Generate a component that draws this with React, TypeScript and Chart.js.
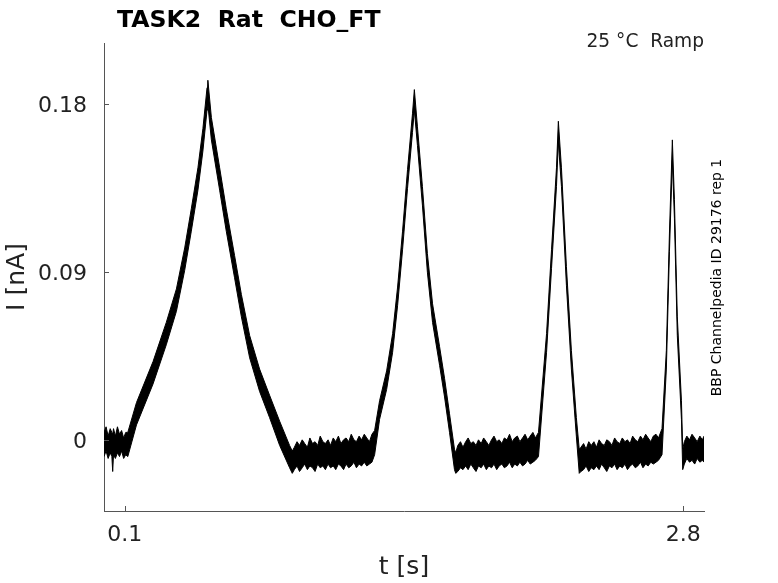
import { useEffect, useRef } from 'react';
import { Chart, registerables } from 'chart.js';

Chart.register(...registerables);

// time axis [s] of the sampled envelope points (one line per segment)
const timeS = [
  0.000, 0.010, 0.020, 0.030, 0.038, 0.042, 0.046, 0.055, 0.065, 0.075, 0.085, 0.095, 0.105,
  0.115, 0.157, 0.237, 0.301, 0.350, 0.390, 0.422, 0.454, 0.478, 0.498, 0.502, 0.519, 0.559, 0.591, 0.631, 0.664, 0.704, 0.752, 0.800, 0.849, 0.897, 0.910,
  0.920, 0.933, 0.945, 0.958, 0.970, 0.983, 0.995, 1.008, 1.020, 1.033, 1.045, 1.058, 1.070, 1.083, 1.095, 1.108, 1.120, 1.133, 1.145, 1.158, 1.170, 1.183, 1.195, 1.208, 1.220, 1.233, 1.245, 1.258, 1.270, 1.283, 1.295,
  1.308, 1.332, 1.366, 1.395, 1.419, 1.443, 1.467, 1.491, 1.500, 1.515, 1.539, 1.563, 1.588, 1.622, 1.646, 1.670, 1.694, 1.700,
  1.710, 1.723, 1.735, 1.748, 1.760, 1.773, 1.785, 1.798, 1.810, 1.823, 1.835, 1.848, 1.860, 1.873, 1.885, 1.898, 1.910, 1.923, 1.935, 1.948, 1.960, 1.973, 1.985, 1.998, 2.010, 2.023, 2.035, 2.048, 2.060, 2.073, 2.085,
  2.100, 2.139, 2.163, 2.187, 2.196, 2.211, 2.235, 2.259, 2.283, 2.297,
  2.305, 2.318, 2.330, 2.343, 2.355, 2.368, 2.380, 2.393, 2.405, 2.418, 2.430, 2.443, 2.455, 2.468, 2.480, 2.493, 2.505, 2.518, 2.530, 2.543, 2.555, 2.568, 2.580, 2.593, 2.605, 2.618, 2.630, 2.643, 2.655, 2.668, 2.680,
  2.697, 2.718, 2.733, 2.747, 2.757, 2.771, 2.791, 2.797,
  2.805, 2.817, 2.830, 2.842, 2.855, 2.867, 2.880, 2.892, 2.900,
];

// upper edge of the noisy current trace [nA]
const upperNA = [
  0.004, 0.007, 0.002, 0.006, 0.004, 0.003, 0.006, 0.002, 0.007, 0.003, 0.005, 0.001, 0.004,
  0.004, 0.020, 0.042, 0.063, 0.081, 0.103, 0.124, 0.146, 0.167, 0.189, 0.193, 0.173, 0.146, 0.124, 0.099, 0.078, 0.056, 0.038, 0.024, 0.010, -0.003, -0.006,
  -0.004, -0.001, -0.003, 0.000, -0.002, -0.004, 0.001, -0.002, -0.001, -0.003, 0.002, -0.001, -0.002, 0.000, -0.003, 0.001, -0.001, 0.002, -0.002, 0.000, 0.001, -0.001, 0.003, 0.000, -0.001, 0.002, 0.000, 0.003, 0.001, -0.001, 0.003,
  0.005, 0.021, 0.037, 0.057, 0.082, 0.112, 0.145, 0.175, 0.188, 0.168, 0.136, 0.100, 0.073, 0.050, 0.033, 0.014, -0.005, -0.007,
  -0.003, -0.001, -0.004, -0.001, 0.001, -0.002, -0.001, -0.003, 0.000, -0.002, 0.001, -0.001, -0.003, 0.000, 0.002, -0.001, 0.000, -0.002, 0.001, 0.000, 0.003, -0.001, 0.001, 0.002, -0.001, 0.001, 0.003, 0.000, 0.002, 0.004, 0.001,
  0.004, 0.057, 0.102, 0.146, 0.171, 0.146, 0.093, 0.048, 0.012, -0.005,
  -0.004, -0.002, -0.005, -0.001, -0.003, -0.001, -0.004, 0.000, -0.002, -0.003, 0.000, -0.001, -0.003, 0.001, -0.001, -0.002, 0.001, -0.001, 0.000, -0.002, 0.002, 0.000, -0.001, 0.002, 0.000, 0.003, 0.001, -0.001, 0.002, 0.003, 0.001,
  0.006, 0.048, 0.111, 0.161, 0.129, 0.066, 0.021, -0.005,
  -0.001, 0.002, 0.000, 0.003, 0.001, -0.001, 0.002, 0.000, 0.002,
];

// lower edge of the noisy current trace [nA]
const lowerNA = [
  -0.009, -0.006, -0.010, -0.007, -0.009, -0.017, -0.008, -0.010, -0.007, -0.009, -0.006, -0.010, -0.008,
  -0.009, 0.008, 0.030, 0.051, 0.069, 0.091, 0.112, 0.134, 0.155, 0.177, 0.180, 0.161, 0.134, 0.112, 0.087, 0.066, 0.044, 0.026, 0.012, -0.003, -0.015, -0.018,
  -0.016, -0.014, -0.017, -0.015, -0.013, -0.016, -0.014, -0.015, -0.017, -0.013, -0.015, -0.014, -0.016, -0.013, -0.015, -0.014, -0.016, -0.013, -0.014, -0.016, -0.013, -0.015, -0.014, -0.012, -0.015, -0.013, -0.014, -0.012, -0.014, -0.013, -0.012,
  -0.008, 0.011, 0.027, 0.047, 0.072, 0.102, 0.135, 0.165, 0.177, 0.158, 0.126, 0.090, 0.063, 0.040, 0.023, 0.004, -0.016, -0.018,
  -0.017, -0.015, -0.016, -0.014, -0.016, -0.013, -0.015, -0.017, -0.014, -0.015, -0.013, -0.016, -0.014, -0.015, -0.013, -0.016, -0.014, -0.013, -0.015, -0.014, -0.012, -0.015, -0.013, -0.014, -0.012, -0.014, -0.013, -0.011, -0.013, -0.012, -0.011,
  -0.009, 0.047, 0.092, 0.136, 0.160, 0.136, 0.083, 0.038, 0.002, -0.018,
  -0.017, -0.016, -0.014, -0.017, -0.015, -0.016, -0.014, -0.016, -0.013, -0.015, -0.017, -0.014, -0.015, -0.013, -0.016, -0.014, -0.015, -0.013, -0.016, -0.014, -0.013, -0.015, -0.014, -0.012, -0.015, -0.013, -0.014, -0.012, -0.013, -0.012, -0.011,
  -0.008, 0.038, 0.101, 0.150, 0.119, 0.056, 0.011, -0.016,
  -0.013, -0.010, -0.012, -0.011, -0.013, -0.010, -0.012, -0.011, -0.012,
];

const xTicks = [0.1, 2.8];
const yTicks = [0, 0.09, 0.18];

const titleText = 'TASK2  Rat  CHO_FT';
const conditionText = '25 °C  Ramp';
const sourceText = 'BBP Channelpedia ID 29176 rep 1';

const FONT = '"DejaVu Sans", sans-serif';
const AXIS = '#555555';
const TEXT = '#222222';

const decorations = {
  id: 'decorations',
  afterDatasetsDraw(chart: any) {
    const { ctx, chartArea, scales } = chart;
    ctx.save();
    // inward tick marks
    ctx.strokeStyle = AXIS;
    ctx.lineWidth = 1;
    xTicks.forEach((v) => {
      const px = Math.round(scales.x.getPixelForValue(v)) + 0.5;
      ctx.beginPath();
      ctx.moveTo(px, chartArea.bottom);
      ctx.lineTo(px, chartArea.bottom - 5);
      ctx.stroke();
    });
    yTicks.forEach((v) => {
      const py = Math.round(scales.y.getPixelForValue(v)) + 0.5;
      ctx.beginPath();
      ctx.moveTo(chartArea.left, py);
      ctx.lineTo(chartArea.left + 5, py);
      ctx.stroke();
    });

    ctx.fillStyle = '#000000';
    ctx.font = `bold 23.6px ${FONT}`;
    ctx.textAlign = 'left';
    ctx.textBaseline = 'alphabetic';
    ctx.fillText(titleText, 117, 27);

    ctx.fillStyle = TEXT;
    ctx.font = `18.6px ${FONT}`;
    ctx.textAlign = 'right';
    ctx.fillText(conditionText, 704, 47);

    ctx.font = `25px ${FONT}`;
    ctx.textAlign = 'center';
    ctx.textBaseline = 'middle';
    ctx.fillText('t [s]', (chartArea.left + chartArea.right) / 2, 567);

    ctx.save();
    ctx.translate(17, (chartArea.top + chartArea.bottom) / 2);
    ctx.rotate(-Math.PI / 2);
    ctx.fillText('I [nA]', 0, 0);
    ctx.restore();

    ctx.save();
    ctx.translate(717, 277.5);
    ctx.rotate(-Math.PI / 2);
    ctx.fillStyle = '#000000';
    ctx.font = `14px ${FONT}`;
    ctx.fillText(sourceText, 0, 0);
    ctx.restore();

    ctx.restore();
  },
};

export default function App() {
  const canvasRef = useRef<HTMLCanvasElement>(null);
  const chartRef = useRef<Chart | null>(null);

  useEffect(() => {
    if (!canvasRef.current) return;
    if (chartRef.current) chartRef.current.destroy();

    const n = Math.min(timeS.length, upperNA.length, lowerNA.length);
    const upper = timeS.slice(0, n).map((t, i) => ({ x: t, y: upperNA[i] }));
    const lower = timeS.slice(0, n).map((t, i) => ({ x: t, y: lowerNA[i] }));

    chartRef.current = new Chart(canvasRef.current, {
      type: 'line',
      data: {
        datasets: [
          {
            label: 'upper',
            data: upper,
            borderColor: '#000000',
            borderWidth: 1,
            pointRadius: 0,
            fill: false,
          },
          {
            label: 'lower',
            data: lower,
            borderColor: '#000000',
            backgroundColor: '#000000',
            borderWidth: 1,
            pointRadius: 0,
            fill: 0,
          },
        ],
      },
      options: {
        animation: false,
        responsive: false,
        devicePixelRatio: 1,
        layout: { padding: { top: 43, right: 74, left: 0, bottom: 0 } },
        plugins: {
          legend: { display: false },
          tooltip: { enabled: false },
          title: { display: false },
        },
        scales: {
          x: {
            type: 'linear',
            min: 0,
            max: 2.9,
            afterFit: (s: any) => { s.height = 72; },
            afterBuildTicks: (s: any) => { s.ticks = xTicks.map((v) => ({ value: v })); },
            grid: { display: true, drawOnChartArea: false, drawTicks: false },
            border: { display: true, color: AXIS, width: 1 },
            ticks: {
              padding: 11,
              color: TEXT,
              font: { family: FONT, size: 22 },
              maxRotation: 0,
              callback: (v: any) => String(v),
            },
          },
          y: {
            type: 'linear',
            min: -0.0382,
            max: 0.213,
            afterFit: (s: any) => { s.width = 104; },
            afterBuildTicks: (s: any) => { s.ticks = yTicks.map((v) => ({ value: v })); },
            grid: { display: true, drawOnChartArea: false, drawTicks: false },
            border: { display: true, color: AXIS, width: 1 },
            ticks: {
              padding: 17,
              labelOffset: 2,
              color: TEXT,
              font: { family: FONT, size: 22 },
              callback: (v: any) => String(v),
            },
          },
        },
      },
      plugins: [decorations],
    });

    return () => {
      if (chartRef.current) {
        chartRef.current.destroy();
        chartRef.current = null;
      }
    };
  }, []);

  return (
    <div style={{ position: 'absolute', left: 0, top: 0, width: '778px', height: '583px', background: '#ffffff' }}>
      <canvas ref={canvasRef} width={778} height={583} />
    </div>
  );
}
